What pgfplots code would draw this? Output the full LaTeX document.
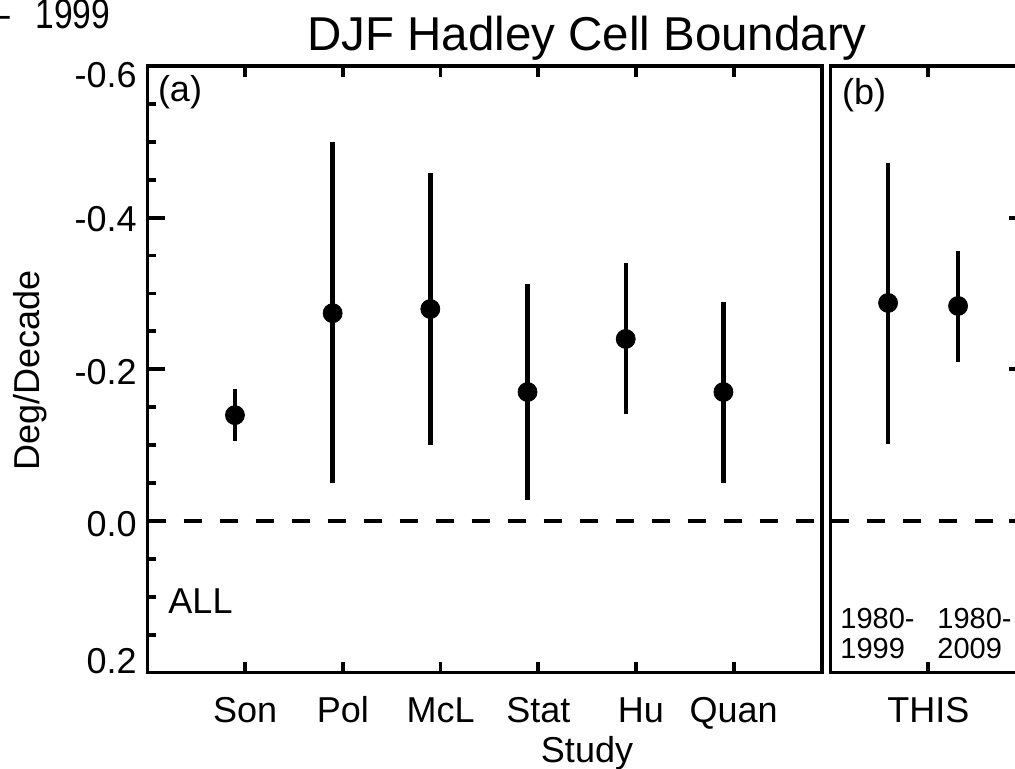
\documentclass[border=0pt]{standalone}
\usepackage{fontspec}
\setmainfont{Liberation Sans}
\usepackage{pgfplots}
\pgfplotsset{compat=1.18}
\newcommand\yl[2]{\raisebox{#1}[0pt][0pt]{#2}}
\begin{document}
\begin{tikzpicture}
\pgfplotsset{
  panel/.style={
    scale only axis, anchor=south west,
    height=303.25pt,
    ymin=-0.6, ymax=0.2, y dir=reverse,
    ytick={-0.6,-0.4,-0.2,0,0.2},
    minor y tick num=3,
    tick align=inside,
    major tick length=8.75pt, minor tick length=4.25pt,
    axis line style={line width=1.9pt},
    tick style={black, line width=1.9pt},
    xtick style={/pgfplots/major tick length=5.5pt},
    tick label style={font=\fontsize{18}{21}\selectfont},
    xticklabel style={anchor=base, inner sep=0pt, yshift=-24.75pt},
    yticklabel style={anchor=east, inner sep=0pt, xshift=-5.25pt},
  },
  pts/.style={only marks, mark=*, mark size=4.75pt, black,
    error bars/.cd, y dir=both, y explicit, error mark=none,
    error bar style={line width=2.2pt, black}},
  zero/.style={black, line width=2.2pt, dash pattern=on 9pt off 9pt, forget plot},
}
% panel (a)
\begin{axis}[panel,
  at={(73.75pt,-336.25pt)}, width=337.25pt,
  xmin=0, xmax=6.904,
  xtick={1,2,3,4,5,6},
  xticklabels={Son,Pol,McL,Stat,\hspace*{5pt}Hu,Quan},
  ytick pos=left,
  yticklabels={\yl{-10.95pt}{-0.6},\yl{-7.1pt}{-0.4},\yl{-7.8pt}{-0.2},\yl{-7.95pt}{0.0},\yl{-0.7pt}{0.2}},
]
\addplot[zero] coordinates {(0,0) (6.904,0)};
\addplot[pts] table[x=x, y=y, y error plus=ep, y error minus=em] {
x      y       ep      em
0.895  -0.1395 0.0345  0.0345
1.895  -0.274  0.224   0.2257
2.895  -0.2795 0.1795  0.1795
3.890  -0.170  0.1424  0.1425
4.895  -0.240  0.099   0.100
5.895  -0.170  0.120   0.119
};
\end{axis}
% panel (b)
\begin{axis}[panel,
  at={(415.25pt,-336.25pt)}, width=97.75pt,
  xmin=0, xmax=2,
  xtick={1}, xticklabels={THIS},
  ytick pos=right, yticklabels={},
]
\addplot[zero] coordinates {(0,0) (2,0)};
\addplot[pts] table[x=x, y=y, y error plus=ep, y error minus=em] {
x      y       ep      em
0.589  -0.2875 0.186   0.1845
1.305  -0.2835 0.074   0.0725
};
\end{axis}
% texts
\node[font=\fontsize{23.75}{28}\selectfont, anchor=base, inner sep=0pt] at (293.5pt,-25pt) {DJF Hadley Cell Boundary};
\node[font=\fontsize{21}{25}\selectfont, anchor=base east, inner sep=0pt] at (55.3pt,-14pt) {\scalebox{0.8}[1]{1999}};
\node[font=\fontsize{21}{25}\selectfont, anchor=base east, inner sep=0pt] at (5.5pt,-14pt) {\scalebox{0.8}[1]{1980\textendash}};
\node[font=\fontsize{18}{21}\selectfont, rotate=90, inner sep=0pt] at (15pt,-185pt) {Deg/Decade};
\node[font=\fontsize{18}{21}\selectfont, inner sep=0pt] at (90pt,-46.25pt) {(a)};
\node[font=\fontsize{18}{21}\selectfont, inner sep=0pt] at (432pt,-47.5pt) {(b)};
\node[font=\fontsize{18}{21}\selectfont, anchor=base, inner sep=0pt] at (100.25pt,-306.5pt) {ALL};
\node[font=\fontsize{14.5}{17}\selectfont, anchor=base west, inner sep=0pt] at (420pt,-314pt) {1980-};
\node[font=\fontsize{14.5}{17}\selectfont, anchor=base west, inner sep=0pt] at (420pt,-329pt) {1999};
\node[font=\fontsize{14.5}{17}\selectfont, anchor=base west, inner sep=0pt] at (468.5pt,-314pt) {1980-};
\node[font=\fontsize{14.5}{17}\selectfont, anchor=base west, inner sep=0pt] at (468.5pt,-329pt) {2009};
\node[font=\fontsize{18}{21}\selectfont, anchor=base, inner sep=0pt] at (293.5pt,-381pt) {Study};
\pgfresetboundingbox
\useasboundingbox (0,0) rectangle (507.5pt,-384pt);
\end{tikzpicture}
\end{document}
